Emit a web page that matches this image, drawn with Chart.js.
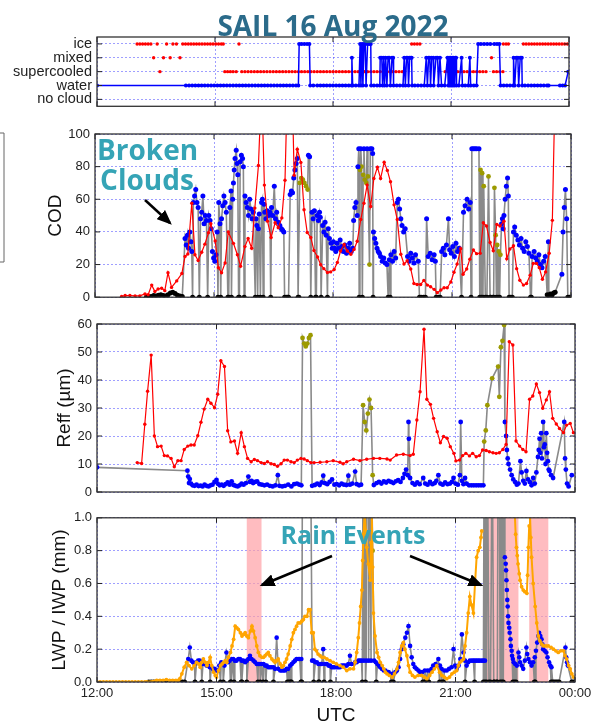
<!DOCTYPE html>
<html>
<head>
<meta charset="utf-8">
<script src="https://cdn.jsdelivr.net/npm/chart.js@4.4.1/dist/chart.umd.min.js"></script>
<style>
  body { margin: 0; background: #fff; width: 604px; height: 727px; position: relative; overflow: hidden; }
  canvas { position: absolute; left: 0; }
  .note { position: absolute; font-family: "Open Sans", sans-serif; font-weight: 700; color: #35a4b6; white-space: nowrap; text-align: center; z-index: 5; }
  svg { position: absolute; left: 0; top: 0; z-index: 6; }
</style>
</head>
<body>
<div class="note" style="left:183px;width:300px;top:11px;font-size:28px;line-height:28px;color:#2b6b8a">SAIL 16 Aug 2022</div>
<div class="note" style="left:97px;width:100px;top:134px;font-size:28px;line-height:30px">Broken<br>Clouds</div>
<div class="note" style="left:253px;width:200px;top:522px;font-size:25px;line-height:25px">Rain Events</div>

<canvas id="phase" width="604" height="120" style="top:0px"></canvas>
<canvas id="cod" width="604" height="190" style="top:120px"></canvas>
<canvas id="reff" width="604" height="195" style="top:310px"></canvas>
<canvas id="lwp" width="604" height="222" style="top:505px"></canvas>

<svg width="604" height="727">
  <defs>
    <marker id="head" markerWidth="6" markerHeight="5" refX="5" refY="2.5" orient="auto" markerUnits="strokeWidth">
      <path d="M0,0 L6,2.5 L0,5 z" fill="#000"/>
    </marker>
  </defs>
  <path d="M0,133 H4 V262 H0" stroke="#666" stroke-width="1" fill="none"/>
  <line x1="145" y1="200" x2="170" y2="223" stroke="#000" stroke-width="2.5" marker-end="url(#head)"/>
  <line x1="332" y1="556" x2="262" y2="585" stroke="#000" stroke-width="2.5" marker-end="url(#head)"/>
  <line x1="410" y1="556" x2="481" y2="585" stroke="#000" stroke-width="2.5" marker-end="url(#head)"/>
</svg>

<script>
// ---- axes ----
const timeTicks = [12, 15, 18, 21, 24];
const timeLabels = ['12:00', '15:00', '18:00', '21:00', '00:00'];
const phaseLabels = ['no cloud', 'water', 'supercooled', 'mixed', 'ice'];
const NC = 0, WA = 1, SC = 2, MX = 3, IC = 4;
const rainBands = [[15.76, 16.13], [21.78, 22.58], [22.85, 23.33]];

// ---- cloud phase panel ----
const phaseBlue = [[12.00,WA],[14.26,WA],[14.34,WA],[14.42,WA],[14.50,WA],[14.58,WA],[14.66,WA],[14.74,WA],[14.82,WA],[14.90,WA],[14.98,WA],[15.06,WA],[15.14,WA],[15.22,WA],[15.30,WA],[15.38,WA],[15.46,WA],[15.54,WA],[15.62,WA],[15.70,WA],[15.78,WA],[15.86,WA],[15.94,WA],[16.02,WA],[16.10,WA],[16.18,WA],[16.26,WA],[16.34,WA],[16.42,WA],[16.50,WA],[16.58,WA],[16.66,WA],[16.74,WA],[16.82,WA],[16.90,WA],[16.98,WA],[17.06,WA],[17.12,WA],[17.14,IC],[17.20,IC],[17.27,IC],[17.34,IC],[17.40,IC],[17.42,WA],[17.50,WA],[17.60,WA],[17.68,WA],[17.76,WA],[17.84,WA],[17.92,WA],[18.00,WA],[18.08,WA],[18.16,WA],[18.24,WA],[18.32,WA],[18.40,WA],[18.47,WA],[18.48,MX],[18.50,WA],[18.58,WA],[18.66,WA],[18.69,IC],[18.71,WA],[18.74,IC],[18.76,WA],[18.79,IC],[18.82,IC],[18.84,WA],[18.88,IC],[18.92,IC],[18.96,IC],[18.97,WA],[19.04,WA],[19.12,WA],[19.19,WA],[19.20,MX],[19.24,MX],[19.26,WA],[19.29,MX],[19.31,WA],[19.34,MX],[19.37,WA],[19.40,MX],[19.43,MX],[19.46,WA],[19.50,MX],[19.53,MX],[19.54,WA],[19.62,WA],[19.70,WA],[19.78,WA],[19.81,MX],[19.84,WA],[19.87,MX],[19.90,MX],[19.92,WA],[19.95,MX],[19.98,MX],[20.00,MX],[20.01,WA],[20.08,WA],[20.16,WA],[20.24,WA],[20.32,WA],[20.37,MX],[20.40,WA],[20.43,MX],[20.46,MX],[20.48,WA],[20.51,MX],[20.55,MX],[20.56,WA],[20.62,MX],[20.66,MX],[20.68,WA],[20.72,MX],[20.76,WA],[20.84,WA],[20.91,MX],[20.93,WA],[20.95,MX],[20.97,WA],[20.99,MX],[21.01,WA],[21.03,MX],[21.05,WA],[21.07,MX],[21.09,WA],[21.11,MX],[21.13,MX],[21.14,WA],[21.20,WA],[21.27,MX],[21.29,WA],[21.36,WA],[21.44,WA],[21.48,MX],[21.50,WA],[21.58,WA],[21.65,WA],[21.69,IC],[21.76,IC],[21.84,IC],[21.92,IC],[22.00,IC],[22.10,IC],[22.17,IC],[22.23,IC],[22.26,WA],[22.34,WA],[22.42,WA],[22.50,WA],[22.58,WA],[22.59,MX],[22.62,WA],[22.66,MX],[22.70,MX],[22.72,WA],[22.76,MX],[22.80,MX],[22.81,WA],[22.88,WA],[22.96,WA],[23.04,WA],[23.12,WA],[23.20,WA],[23.28,WA],[23.36,WA],[23.44,WA],[23.48,WA],[23.77,WA],[23.84,WA],[23.90,WA],[23.98,SC]];
const phaseRedIce = [13.02,13.09,13.16,13.23,13.30,13.37,13.53,13.77,13.93,14.02,14.18,14.25,14.32,14.39,14.46,14.53,14.60,14.67,14.74,14.81,14.88,14.95,15.02,15.09,15.16,15.21,15.61,20.00,20.07,20.14,20.21,22.33,22.40,22.46,22.84,22.91,22.98,23.05,23.12,23.19,23.26,23.33,23.40,23.47,23.54,23.61,23.68,23.75,23.82,23.89,23.96];
const phaseRedMixed = [13.44,13.69,13.86,14.11,22.03,22.63];
const phaseRedSuper = [13.60,15.25,15.32,15.39,15.46,15.54,15.68,15.76,15.84,15.92,16.00,16.08,16.16,16.24,16.32,16.40,16.48,16.56,16.64,16.72,16.80,16.88,16.96,17.04,17.12,17.20,17.28,17.36,17.44,17.52,17.60,17.68,17.76,17.84,17.92,18.00,18.08,18.16,18.24,18.32,18.40,18.48,18.56,18.64,18.72,18.80,18.88,18.96,19.04,19.12,19.20,19.28,19.36,19.44,19.52,19.60,19.68,19.76,20.85,20.93,21.01,21.09,21.17,21.25,21.33,21.41,21.49,21.57,21.65,21.73,21.81,21.89,22.08,22.16,22.24,22.32];

// ---- COD panel ----
const codRed = [[12.67,0.5],[12.76,1],[12.88,1],[13.01,0.8],[13.13,0.8],[13.26,2],[13.34,1.5],[13.43,7.4],[13.51,3.5],[13.59,5],[13.68,5.5],[13.76,4],[13.84,15],[13.93,6],[14.06,10],[14.19,14.5],[14.27,25],[14.34,26.5],[14.44,57.6],[14.52,26],[14.60,22.5],[14.69,27.5],[14.77,32.5],[14.86,39.5],[14.92,45],[15.03,34.5],[15.11,18],[15.19,15],[15.28,21],[15.36,40],[15.49,33],[15.59,26],[15.67,19],[15.78,31],[15.86,36],[15.95,30],[16.03,54.6],[16.12,80.7],[16.20,130],[16.27,68.7],[16.35,46.6],[16.44,36.6],[16.54,45.6],[16.62,42.6],[16.71,48.6],[16.79,71.7],[16.85,130],[16.97,130],[17.02,74.7],[17.10,90.7],[17.19,82.6],[17.27,53.6],[17.35,39.6],[17.44,36.6],[17.52,28.6],[17.61,24.6],[17.69,19.9],[17.77,17.5],[17.86,15.1],[17.94,15.5],[18.03,17],[18.11,21.3],[18.19,28.3],[18.28,32.3],[18.36,28.3],[18.45,26.3],[18.53,29.3],[18.61,34.3],[18.70,47.6],[18.78,57.6],[18.86,68.7],[18.95,55.6],[19.03,72.7],[19.12,79.7],[19.20,72.7],[19.29,82.7],[19.37,77.7],[19.45,70.7],[19.54,56.6],[19.62,47.6],[19.71,26.3],[19.79,20.3],[19.87,22.3],[19.96,17.3],[20.04,8.4],[20.12,7.8],[20.21,7.8],[20.29,10.3],[20.38,7.4],[20.46,6.4],[20.55,4.8],[20.63,2.8],[20.72,4.4],[20.80,5.8],[20.88,5.8],[20.97,9.3],[21.05,15.3],[21.13,20.3],[21.22,29.7],[21.28,14.1],[21.37,17.3],[21.45,23.3],[21.54,28.9],[21.62,26.7],[21.71,26.9],[21.79,45.6],[21.87,43.6],[21.96,33.5],[22.04,28.5],[22.13,44.6],[22.21,43.6],[22.31,46.6],[22.38,23.5],[22.46,29.5],[22.55,31.5],[22.63,17.5],[22.71,10.4],[22.80,7.4],[22.88,8.4],[22.97,13.5],[23.05,20.7],[23.13,20.7],[23.20,18.1],[23.28,11],[23.36,15.5],[23.45,26.9],[23.53,47.1],[23.60,130]];
const codLiquid = [[14.27,36],[14.30,32],[14.33,38],[14.36,30],[14.39,40],[14.42,34],[14.44,28],[14.48,58],[14.51,62],[14.54,66],[14.57,58],[14.60,55],[14.66,48],[14.69,52],[14.72,62],[14.75,45],[14.78,50],[14.81,47],[14.87,50],[14.90,47],[14.93,42],[14.96,28],[14.99,24],[15.02,22],[15.05,26],[15.08,40],[15.12,58],[15.15,45],[15.19,48],[15.22,56],[15.25,62],[15.28,58],[15.31,52],[15.40,55],[15.43,65],[15.47,60],[15.49,70],[15.51,78],[15.53,85],[15.56,90],[15.58,82],[15.60,75],[15.66,83],[15.69,87],[15.72,85],[15.74,80],[15.78,62],[15.81,58],[15.84,55],[15.87,50],[15.90,60],[15.93,54],[15.96,48],[15.99,52],[16.06,48],[16.08,44],[16.12,42],[16.14,51],[16.20,58],[16.22,60],[16.26,57],[16.28,52],[16.31,48],[16.34,53],[16.38,50],[16.41,52],[16.45,55],[16.48,50],[16.52,68],[16.55,48],[16.58,52],[16.62,46],[16.66,44],[16.70,42],[16.73,41],[16.76,40],[16.92,63],[16.95,65],[16.98,64],[17.01,73],[17.04,78],[17.07,82],[17.10,85],[17.38,87],[17.41,86],[17.47,52],[17.50,48],[17.53,53],[17.60,50],[17.63,47],[17.66,52],[17.68,49],[17.74,44],[17.77,40],[17.80,46],[17.83,38],[17.88,42],[17.91,36],[17.95,33],[17.98,30],[18.01,34],[18.04,30],[18.07,28],[18.10,33],[18.14,30],[18.18,35],[18.22,31],[18.26,28],[18.30,32],[18.34,27],[18.38,30],[18.42,33],[18.46,28],[18.50,30],[18.52,47],[18.55,55],[18.58,58],[18.61,50],[18.63,80],[18.65,91],[18.70,91],[18.78,91],[18.86,91],[18.94,91],[18.98,91],[19.00,88],[19.02,40],[19.05,36],[19.08,33],[19.11,30],[19.14,28],[19.17,27],[19.20,25],[19.24,22],[19.28,24],[19.32,21],[19.36,20],[19.42,23],[19.46,26],[19.50,22],[19.54,28],[19.58,24],[19.62,58],[19.65,60],[19.68,54],[19.71,48],[19.74,44],[19.78,40],[19.82,42],[19.88,25],[19.92,22],[19.96,27],[20.00,24],[20.04,21],[20.08,26],[20.15,22],[20.36,48],[20.40,25],[20.45,27],[20.50,23],[20.55,26],[20.58,22],[20.74,28],[20.78,30],[20.82,26],[20.86,32],[20.91,48],[20.94,29],[20.98,27],[21.02,31],[21.06,25],[21.10,33],[21.14,28],[21.18,30],[21.29,52],[21.33,56],[21.38,60],[21.42,54],[21.46,58],[21.50,91],[21.54,91],[21.58,91],[21.62,91],[21.68,91],[22.25,45],[22.27,48],[22.29,42],[22.31,50],[22.34,60],[22.37,68],[22.40,73],[22.42,62],[22.55,40],[22.58,43],[22.62,38],[22.66,35],[22.70,32],[22.74,36],[22.78,30],[22.82,28],[22.86,34],[22.90,31],[22.94,27],[23.02,25],[23.07,28],[23.11,24],[23.15,22],[23.19,26],[23.23,20],[23.27,18],[23.31,22],[23.35,25],[23.43,34],[23.77,14],[23.80,40],[23.83,55],[23.86,66],[23.89,48]];
const codIce = [[17.16,70],[17.20,73],[17.24,72],[17.28,70],[17.32,68],[17.36,66],[18.68,78],[18.72,80],[18.76,75],[18.80,72],[18.84,70],[18.88,74],[18.92,20],[21.72,78],[21.76,76],[21.80,68],[21.92,74],[22.07,67],[22.10,38],[22.14,32],[22.18,28],[22.22,26]];
const clearSky = [[13.30,0.3],[13.36,0.5],[13.42,0.4],[13.48,1.0],[13.54,0.8],[13.60,1.2],[13.66,1.5],[13.72,1.0],[13.78,0.8],[13.84,1.5],[13.90,2.5],[13.96,3.0],[14.02,2.2],[14.08,1.2],[14.14,0.8],[14.20,0.5],[14.46,0],[14.63,0],[14.84,0],[15.10,0],[15.17,0],[15.35,0],[15.37,0],[15.44,0],[15.62,0],[15.64,0],[15.76,0],[16.04,0],[16.10,0],[16.17,0],[16.24,0],[16.43,0],[16.78,0],[16.82,0],[16.86,0],[16.88,0],[17.12,0],[17.14,0],[17.44,0],[17.56,0],[17.58,0],[17.70,0],[17.86,0],[18.66,0],[18.74,0],[19.01,0],[19.39,0],[19.44,0],[20.18,0],[20.22,0],[20.28,0],[20.33,0],[20.60,0],[20.66,0],[20.70,0],[21.24,0],[21.48,0],[21.70,0],[21.74,0],[21.78,0],[21.84,0],[21.88,0],[21.96,0],[21.98,0],[22.03,0],[22.05,0],[22.12,0],[22.16,0],[22.20,0],[22.44,0],[22.48,0],[22.52,0],[22.98,0],[23.00,0],[23.40,1.5],[23.44,1.0],[23.48,2.0],[23.52,1.2],[23.56,2.5],[23.60,3.0],[23.92,0],[23.96,0],[24.00,0]];

// ---- Reff panel ----
const reffRed = [[13.01,10.5],[13.12,10.2],[13.20,24.2],[13.27,36],[13.36,48.9],[13.44,20],[13.52,16.2],[13.61,16.4],[13.69,13],[13.77,12.9],[13.86,12],[13.94,9],[14.03,11.2],[14.11,11.2],[14.19,15.2],[14.28,16.4],[14.36,16.8],[14.44,16.8],[14.53,20.1],[14.61,24.9],[14.69,29.6],[14.78,33.1],[14.86,31.7],[14.95,30.1],[15.03,34.9],[15.11,46.9],[15.20,44.8],[15.28,21.9],[15.36,17.9],[15.45,18.2],[15.53,13.8],[15.62,21.2],[15.70,16.2],[15.78,12],[15.87,10.8],[15.95,11.6],[16.03,11.2],[16.12,10.5],[16.20,10.2],[16.28,10.8],[16.37,10.1],[16.45,9.8],[16.53,9.2],[16.62,10.1],[16.70,11.4],[16.78,11.4],[16.87,10.8],[16.95,10.5],[17.03,11.4],[17.12,12],[17.20,11.8],[17.28,11.2],[17.37,10.5],[17.45,10.5],[17.60,10.6],[17.77,10.8],[17.93,11.2],[18.10,10.6],[18.18,10.1],[18.27,10.8],[18.44,11.7],[18.60,11.2],[18.77,11.7],[18.94,12],[19.10,12],[19.28,11.8],[19.36,11.4],[19.52,13.2],[19.69,13.5],[19.86,13],[19.94,13.5],[20.03,25.7],[20.11,35.8],[20.21,58.1],[20.28,33.1],[20.37,31.3],[20.45,26.3],[20.54,21.5],[20.62,17.6],[20.70,19.8],[20.79,19.2],[20.87,16.2],[20.96,13.8],[21.01,11.1],[21.10,11.4],[21.18,13],[21.26,13.8],[21.35,12.9],[21.43,13.8],[21.52,12.6],[21.60,13],[21.68,15],[21.77,14.8],[21.85,14.4],[21.94,14],[22.02,13.8],[22.10,14],[22.19,15.2],[22.27,17],[22.35,53.7],[22.44,52.5],[22.52,18.2],[22.61,16.4],[22.69,15.2],[22.77,14.4],[22.86,33.1],[22.94,34.3],[23.03,38.6],[23.11,35.5],[23.19,29.9],[23.28,32.9],[23.36,35.8],[23.44,26.3],[23.53,24.3],[23.61,22.7],[23.71,21.2],[23.79,23.9],[23.88,24.5],[23.96,21.2]];
const reffLiquid = [[12.00,8.8],[14.27,7.6],[14.29,5.5],[14.31,3.2],[14.33,4.6],[14.36,3.0],[14.40,2.4],[14.45,2.2],[14.50,2.6],[14.55,2.1],[14.60,2.3],[14.65,2.0],[14.70,2.6],[14.75,2.2],[14.80,2.0],[14.85,2.4],[14.90,2.6],[14.95,3.6],[15.00,4.3],[15.03,3.0],[15.08,2.4],[15.13,2.6],[15.18,2.2],[15.23,2.8],[15.28,3.4],[15.33,2.6],[15.38,3.8],[15.43,2.5],[15.48,2.2],[15.53,2.0],[15.58,2.4],[15.63,3.0],[15.68,2.6],[15.74,3.2],[15.80,5.5],[15.84,3.6],[15.88,4.0],[15.92,3.2],[15.97,3.6],[16.02,3.8],[16.08,2.8],[16.14,2.6],[16.20,2.4],[16.27,2.6],[16.34,2.2],[16.41,2.0],[16.48,2.4],[16.54,6.0],[16.58,2.2],[16.65,2.0],[16.72,2.2],[16.80,2.6],[16.88,2.0],[16.95,2.8],[17.02,3.0],[17.08,2.6],[17.13,2.4],[17.40,2.2],[17.47,2.5],[17.53,3.0],[17.59,2.5],[17.64,3.4],[17.68,5.8],[17.72,3.2],[17.78,2.8],[17.84,3.6],[17.90,4.5],[17.96,2.6],[18.02,2.8],[18.08,2.4],[18.14,3.0],[18.20,2.6],[18.26,2.5],[18.31,5.8],[18.35,2.6],[18.41,3.0],[18.48,7.3],[18.52,2.8],[18.58,2.4],[18.63,2.6],[18.95,2.5],[19.02,3.2],[19.08,3.6],[19.14,3.0],[19.20,3.8],[19.26,3.4],[19.32,4.0],[19.38,3.6],[19.44,3.2],[19.50,3.8],[19.56,4.2],[19.62,3.6],[19.68,5.0],[19.72,6.5],[19.76,8.0],[19.80,6.0],[19.82,25],[19.83,19],[19.86,5.0],[19.92,3.2],[19.98,2.6],[20.04,3.4],[20.10,2.8],[20.19,5.0],[20.24,3.0],[20.30,2.6],[20.36,3.6],[20.42,2.8],[20.48,3.2],[20.52,4.0],[20.57,6.0],[20.62,3.0],[20.68,2.6],[20.74,3.4],[20.80,2.8],[20.86,3.0],[20.91,3.6],[20.95,5.0],[21.00,3.0],[21.06,2.6],[21.11,6.0],[21.13,25],[21.16,4.0],[21.20,2.8],[21.24,5.0],[21.28,3.0],[21.34,2.4],[21.40,2.4],[21.46,2.4],[21.52,2.4],[21.58,2.4],[21.64,2.4],[21.70,2.4],[22.24,25],[22.27,20],[22.29,15],[22.31,12],[22.33,10],[22.37,8],[22.41,6],[22.45,4.5],[22.50,3.5],[22.54,2.6],[22.58,3.0],[22.63,11],[22.66,7],[22.70,4],[22.74,3.0],[22.78,7.5],[22.82,4.5],[22.87,3.5],[22.91,2.4],[22.95,5.0],[22.99,3.0],[23.03,7.0],[23.07,12.5],[23.09,15],[23.11,19],[23.13,14],[23.15,21],[23.17,12],[23.20,25],[23.22,16],[23.24,17],[23.26,10],[23.28,21],[23.30,14],[23.32,11],[23.34,8],[23.36,7.5],[23.40,6],[23.45,5.0],[23.73,25],[23.75,12],[23.77,8],[23.80,3.0],[23.84,2.0],[23.92,6.0]];
const reffIce = [[17.16,55],[17.20,53],[17.24,52],[17.28,53],[17.32,55],[17.36,56],[18.68,31],[18.72,25],[18.76,22],[18.80,28],[18.84,33],[18.88,30],[18.92,6],[21.72,18],[21.76,22],[21.80,31],[21.92,40.6],[22.07,44.8],[22.10,34],[22.14,51.7],[22.18,54],[22.22,59.6]];

// ---- LWP / IWP panel ----
const lwpMwr = [[12.00,0],[12.08,0],[12.16,0],[12.24,0],[12.32,0],[12.40,0],[12.48,0],[12.56,0],[12.64,0],[12.72,0],[12.80,0],[12.88,0],[12.96,0],[13.04,0],[13.12,0],[13.20,0],[13.25,0],[13.50,0.01],[13.58,0.01],[13.66,0.01],[13.74,0.015],[13.82,0.01],[13.90,0.01],[13.98,0.01],[14.04,0.01],[14.08,0.02],[14.13,0.05],[14.19,0.09],[14.25,0.12],[14.31,0.10],[14.38,0.08],[14.44,0.10],[14.50,0.12],[14.55,0.11],[14.59,0.09],[14.63,0.12],[14.67,0.14],[14.72,0.12],[14.76,0.10],[14.80,0.12],[14.84,0.15],[14.88,0.10],[14.93,0.06],[14.97,0.04],[15.00,0.03],[15.05,0.07],[15.10,0.10],[15.14,0.11],[15.18,0.12],[15.22,0.13],[15.26,0.12],[15.30,0.15],[15.35,0.18],[15.39,0.22],[15.43,0.26],[15.47,0.34],[15.51,0.33],[15.55,0.32],[15.60,0.30],[15.64,0.28],[15.68,0.29],[15.72,0.30],[15.76,0.28],[15.80,0.27],[15.85,0.31],[15.89,0.34],[15.93,0.31],[15.97,0.27],[16.01,0.22],[16.05,0.18],[16.09,0.16],[16.14,0.15],[16.18,0.15],[16.22,0.16],[16.26,0.17],[16.30,0.18],[16.34,0.16],[16.39,0.14],[16.43,0.13],[16.47,0.12],[16.51,0.13],[16.55,0.14],[16.60,0.11],[16.64,0.09],[16.68,0.10],[16.72,0.12],[16.76,0.14],[16.80,0.17],[16.85,0.22],[16.89,0.26],[16.93,0.30],[16.97,0.32],[17.01,0.34],[17.05,0.36],[17.10,0.36],[17.14,0.37],[17.18,0.38],[17.22,0.40],[17.27,0.40],[17.31,0.44],[17.35,0.44],[17.39,0.30],[17.43,0.30],[17.47,0.20],[17.51,0.19],[17.55,0.17],[17.60,0.16],[17.65,0.15],[17.70,0.15],[17.77,0.14],[17.85,0.13],[17.93,0.12],[18.01,0.11],[18.10,0.10],[18.18,0.09],[18.27,0.07],[18.35,0.08],[18.44,0.08],[18.48,0.12],[18.52,0.18],[18.56,0.27],[18.59,0.36],[18.62,0.46],[18.65,0.56],[18.67,0.74],[18.69,0.90],[18.72,1.02],[18.75,0.92],[18.77,0.82],[18.81,0.72],[18.86,0.62],[18.88,0.85],[18.90,1.02],[18.92,0.70],[18.94,0.42],[18.98,0.28],[19.03,0.18],[19.07,0.15],[19.11,0.12],[19.16,0.10],[19.20,0.08],[19.24,0.06],[19.28,0.05],[19.34,0.04],[19.41,0.03],[19.47,0.05],[19.53,0.08],[19.57,0.12],[19.61,0.18],[19.65,0.22],[19.69,0.24],[19.73,0.20],[19.78,0.16],[19.82,0.10],[19.86,0.06],[19.92,0.04],[19.98,0.03],[20.06,0.04],[20.15,0.04],[20.22,0.03],[20.28,0.02],[20.35,0.04],[20.41,0.06],[20.47,0.08],[20.53,0.10],[20.60,0.06],[20.66,0.04],[20.72,0.03],[20.78,0.02],[20.85,0.03],[20.91,0.05],[20.97,0.06],[21.03,0.07],[21.07,0.10],[21.11,0.12],[21.16,0.13],[21.20,0.14],[21.24,0.22],[21.28,0.30],[21.32,0.42],[21.36,0.52],[21.40,0.47],[21.45,0.42],[21.49,0.60],[21.53,0.76],[21.57,0.80],[21.61,0.82],[21.64,0.88],[21.66,0.92],[22.00,null],[22.49,1.02],[22.51,0.90],[22.53,0.82],[22.55,0.77],[22.57,0.72],[22.60,0.66],[22.62,0.62],[22.66,0.58],[22.70,0.56],[22.74,0.55],[22.79,0.54],[22.81,0.65],[22.83,0.82],[22.85,0.95],[22.87,1.02],[22.89,0.88],[22.91,0.76],[22.95,0.60],[23.00,0.46],[23.04,0.36],[23.08,0.28],[23.12,0.25],[23.17,0.23],[23.21,0.22],[23.27,0.22],[23.33,0.22],[23.40,0.21],[23.46,0.20],[23.52,0.19],[23.58,0.18],[23.64,0.19],[23.71,0.19],[23.75,0.16],[23.79,0.14],[23.84,0.10],[23.88,0.08],[23.92,0.05],[23.96,0.03]];
const lwpLiquid = [[14.29,0.14],[14.33,0.21],[14.37,0.13],[14.41,0.12],[14.45,0.11],[14.50,0.12],[14.54,0.13],[14.58,0.13],[14.62,0.12],[14.66,0.11],[14.70,0.11],[14.75,0.10],[14.79,0.10],[14.83,0.09],[14.87,0.09],[14.91,0.08],[14.95,0.08],[14.99,0.07],[15.03,0.07],[15.07,0.10],[15.12,0.12],[15.16,0.11],[15.20,0.10],[15.25,0.18],[15.29,0.12],[15.33,0.13],[15.37,0.14],[15.42,0.14],[15.46,0.13],[15.50,0.13],[15.55,0.14],[15.59,0.14],[15.63,0.13],[15.67,0.13],[15.72,0.12],[15.76,0.13],[15.80,0.14],[15.84,0.16],[15.88,0.14],[15.93,0.13],[15.97,0.12],[16.01,0.11],[16.05,0.11],[16.09,0.11],[16.13,0.11],[16.18,0.11],[16.22,0.10],[16.26,0.10],[16.30,0.09],[16.34,0.09],[16.38,0.09],[16.43,0.09],[16.47,0.08],[16.51,0.27],[16.55,0.08],[16.60,0.07],[16.64,0.07],[16.68,0.07],[16.72,0.07],[16.76,0.08],[16.80,0.08],[16.85,0.10],[16.89,0.11],[16.93,0.12],[16.97,0.13],[17.01,0.14],[17.05,0.14],[17.09,0.14],[17.13,0.14],[17.40,0.13],[17.44,0.13],[17.48,0.12],[17.52,0.12],[17.56,0.11],[17.60,0.11],[17.64,0.11],[17.68,0.20],[17.72,0.11],[17.77,0.11],[17.81,0.10],[17.85,0.10],[17.89,0.09],[17.93,0.09],[17.97,0.09],[18.02,0.09],[18.06,0.09],[18.10,0.09],[18.14,0.10],[18.18,0.10],[18.22,0.10],[18.27,0.10],[18.31,0.11],[18.35,0.16],[18.39,0.11],[18.44,0.11],[18.48,0.12],[18.52,0.12],[18.56,0.13],[18.60,0.13],[18.64,0.13],[18.70,0.13],[18.76,0.13],[18.82,0.13],[18.88,0.13],[18.96,0.13],[19.00,0.12],[19.04,0.11],[19.08,0.10],[19.11,0.09],[19.15,0.08],[19.20,0.07],[19.24,0.07],[19.28,0.06],[19.32,0.06],[19.36,0.05],[19.42,0.05],[19.49,0.06],[19.53,0.07],[19.57,0.09],[19.61,0.14],[19.65,0.20],[19.69,0.23],[19.74,0.27],[19.78,0.30],[19.82,0.34],[19.86,0.22],[19.90,0.15],[19.94,0.11],[19.98,0.09],[20.02,0.08],[20.07,0.07],[20.11,0.06],[20.16,0.06],[20.23,0.07],[20.30,0.07],[20.36,0.07],[20.40,0.08],[20.44,0.10],[20.50,0.11],[20.57,0.14],[20.61,0.10],[20.65,0.08],[20.72,0.07],[20.78,0.07],[20.84,0.08],[20.90,0.09],[20.95,0.20],[20.99,0.10],[21.03,0.08],[21.08,0.10],[21.12,0.14],[21.16,0.29],[21.20,0.18],[21.24,0.13],[21.28,0.10],[21.32,0.12],[21.36,0.13],[21.41,0.13],[21.45,0.13],[21.49,0.13],[21.53,0.13],[21.57,0.13],[21.61,0.13],[21.66,0.13],[21.70,0.13],[21.74,0.13],[22.24,0.76],[22.26,0.72],[22.27,0.68],[22.28,0.62],[22.29,0.56],[22.30,0.50],[22.31,0.46],[22.32,0.40],[22.33,0.36],[22.35,0.33],[22.36,0.30],[22.38,0.26],[22.39,0.22],[22.41,0.19],[22.42,0.16],[22.44,0.14],[22.46,0.12],[22.50,0.11],[22.54,0.10],[22.58,0.18],[22.60,0.15],[22.62,0.12],[22.66,0.10],[22.70,0.08],[22.74,0.13],[22.78,0.21],[22.80,0.17],[22.83,0.14],[22.87,0.12],[22.91,0.10],[22.95,0.12],[22.99,0.15],[23.02,0.19],[23.05,0.24],[23.08,0.28],[23.10,0.30],[23.13,0.28],[23.16,0.26],[23.18,0.23],[23.20,0.20],[23.24,0.19],[23.28,0.18],[23.31,0.15],[23.35,0.12],[23.38,0.10],[23.41,0.09],[23.76,0.21],[23.78,0.15],[23.80,0.12],[23.82,0.10]];
const iwpIce = [[17.16,1.5],[17.20,1.5],[17.24,1.5],[17.28,1.5],[17.32,1.5],[17.36,1.5],[18.68,1.5],[18.72,1.5],[18.76,1.5],[18.80,1.5],[18.84,1.5],[18.88,1.5],[18.92,0.8],[21.72,1.5],[21.76,1.5],[21.80,1.5],[21.92,1.5],[22.07,1.5],[22.10,1.5],[22.14,1.5],[22.18,1.5],[22.22,1.5]];

// ---- helpers ----
const FONT = '"Liberation Sans", Arial, sans-serif';
const GRID = 'rgba(80,80,255,0.55)';
const pts = arr => arr.map(([x, y]) => ({x, y}));
const stems = (...sets) => sets.flat().map(([x, y]) => ({x, y})).sort((a, b) => a.x - b.x);

const dots = (data, color, r) => ({data, showLine: false, pointRadius: r, pointBorderWidth: 0,
  pointBackgroundColor: color, borderColor: color, backgroundColor: color});
const redLine = data => ({data, borderColor: '#ff0000', borderWidth: 1.2, pointRadius: 1.7,
  pointBorderWidth: 0, pointBackgroundColor: '#ff0000', tension: 0});
const grayLine = data => ({data, borderColor: '#8a8a8a', borderWidth: 1.6, pointRadius: 0, tension: 0});

const framePlugin = {
  id: 'frame',
  beforeDatasetsDraw(chart, args, opts) {
    if (!opts.bands) return;
    const {ctx, chartArea: a, scales: {x}} = chart;
    ctx.save();
    ctx.fillStyle = 'rgba(255,160,165,0.7)';
    opts.bands.forEach(([s, e]) => {
      const x0 = x.getPixelForValue(s), x1 = x.getPixelForValue(e);
      ctx.fillRect(x0, a.top, x1 - x0, a.bottom - a.top);
    });
    ctx.restore();
  },
  afterDraw(chart) {
    const {ctx, chartArea: a, scales: {x, y}} = chart;
    ctx.save();
    ctx.strokeStyle = '#222';
    ctx.lineWidth = 1;
    ctx.beginPath();
    x.ticks.forEach(t => {
      const p = x.getPixelForValue(t.value);
      ctx.moveTo(p, a.bottom); ctx.lineTo(p, a.bottom - 5);
      ctx.moveTo(p, a.top); ctx.lineTo(p, a.top + 5);
    });
    y.ticks.forEach(t => {
      const p = y.getPixelForValue(t.value);
      ctx.moveTo(a.left, p); ctx.lineTo(a.left + 5, p);
      ctx.moveTo(a.right, p); ctx.lineTo(a.right - 5, p);
    });
    ctx.stroke();
    ctx.lineWidth = 1.3;
    ctx.strokeStyle = '#333';
    ctx.strokeRect(a.left, a.top, a.right - a.left, a.bottom - a.top);
    ctx.restore();
  }
};

function timeAxis(h, labels) {
  return {
    type: 'linear', min: 12, max: 24,
    afterBuildTicks: s => { s.ticks = timeTicks.map(v => ({value: v})); },
    afterFit: s => { s.height = h; },
    grid: {color: GRID, lineWidth: 1, drawTicks: false},
    border: {display: false, dash: [2, 2]},
    ticks: {display: labels, autoSkip: false, maxRotation: 0, padding: 4, color: '#222',
      font: {family: FONT, size: 13}, callback: v => timeLabels[timeTicks.indexOf(v)]},
    title: {display: labels, text: 'UTC', color: '#111', font: {family: FONT, size: 19}, padding: {top: 0, bottom: 0}}
  };
}

function valueAxis(o) {
  return {
    type: 'linear', min: o.min, max: o.max,
    afterBuildTicks: s => { s.ticks = o.ticks.map(v => ({value: v})); },
    afterFit: s => { s.width = o.w; },
    grid: {color: GRID, lineWidth: 1, drawTicks: false},
    border: {display: false, dash: [2, 2]},
    ticks: {autoSkip: false, padding: 5, color: '#222', font: {family: FONT, size: o.fs || 13}, callback: o.fmt},
    title: {display: !!o.title, text: o.title, color: '#111', font: {family: FONT, size: 19},
      padding: {top: o.tp || 0, bottom: 0}}
  };
}

function makeChart(id, datasets, xAx, yAx, pad, bands) {
  return new Chart(document.getElementById(id), {
    type: 'line',
    data: {datasets},
    options: {
      responsive: false, animation: false,
      layout: {padding: pad},
      scales: {x: xAx, y: yAx},
      plugins: {legend: {display: false}, tooltip: {enabled: false}, title: {display: false}, frame: {bands}}
    },
    plugins: [framePlugin]
  });
}

// phase panel
makeChart('phase', [
  {data: pts(phaseBlue), borderColor: '#0000ff', borderWidth: 1.5, pointRadius: 2, pointBorderWidth: 0,
    pointBackgroundColor: '#0000ff', tension: 0},
  dots(phaseRedIce.map(t => ({x: t, y: IC})), '#ff0000', 1.7),
  dots(phaseRedMixed.map(t => ({x: t, y: MX})), '#ff0000', 1.7),
  dots(phaseRedSuper.map(t => ({x: t, y: SC})), '#ff0000', 1.7)
], timeAxis(12, false),
   valueAxis({min: -0.5, max: 4.5, ticks: [0, 1, 2, 3, 4], w: 97, fs: 14.5, fmt: v => phaseLabels[v]}),
   {top: 37, right: 35, left: 0, bottom: 0});

// COD panel
makeChart('cod', [
  redLine(pts(codRed)),
  dots(pts(codLiquid), '#0000ff', 2.5),
  dots(pts(codIce), '#9c9a00', 2.4),
  dots(pts(clearSky), '#000000', 2.5),
  grayLine(stems(codLiquid, codIce, clearSky))
], timeAxis(11, false),
   valueAxis({min: 0, max: 100, ticks: [0, 20, 40, 60, 80, 100], w: 95, title: 'COD', tp: 44}),
   {top: 14, right: 33, left: 0, bottom: 0});

// Reff panel
makeChart('reff', [
  redLine(pts(reffRed)),
  dots(pts(reffLiquid), '#0000ff', 2.4),
  dots(pts(reffIce), '#9c9a00', 2.4),
  grayLine(stems(reffLiquid, reffIce))
], timeAxis(13, false),
   valueAxis({min: 0, max: 60, ticks: [0, 10, 20, 30, 40, 50, 60], w: 97, title: 'Reff (µm)', tp: 53}),
   {top: 14, right: 29, left: 0, bottom: 0});

// LWP / IWP panel
const clearZero = clearSky.map(([t]) => [t, 0]);
makeChart('lwp', [
  {data: pts(lwpMwr), borderColor: '#ffa500', borderWidth: 2, pointRadius: 1.9, pointBorderWidth: 0,
    pointBackgroundColor: '#ffa500', tension: 0, spanGaps: false},
  dots(pts(lwpLiquid), '#0000ff', 2.3),
  dots(pts(iwpIce), '#9c9a00', 2.3),
  dots(pts(clearZero), '#000000', 2.5),
  grayLine(stems(lwpLiquid, iwpIce, clearZero))
], timeAxis(45, true),
   valueAxis({min: 0, max: 1, ticks: [0, 0.2, 0.4, 0.6, 0.8, 1.0], w: 97, title: 'LWP / IWP (mm)', tp: 48,
     fmt: v => v.toFixed(1)}),
   {top: 10, right: 29, left: 0, bottom: 0}, rainBands);
</script>
</body>
</html>
